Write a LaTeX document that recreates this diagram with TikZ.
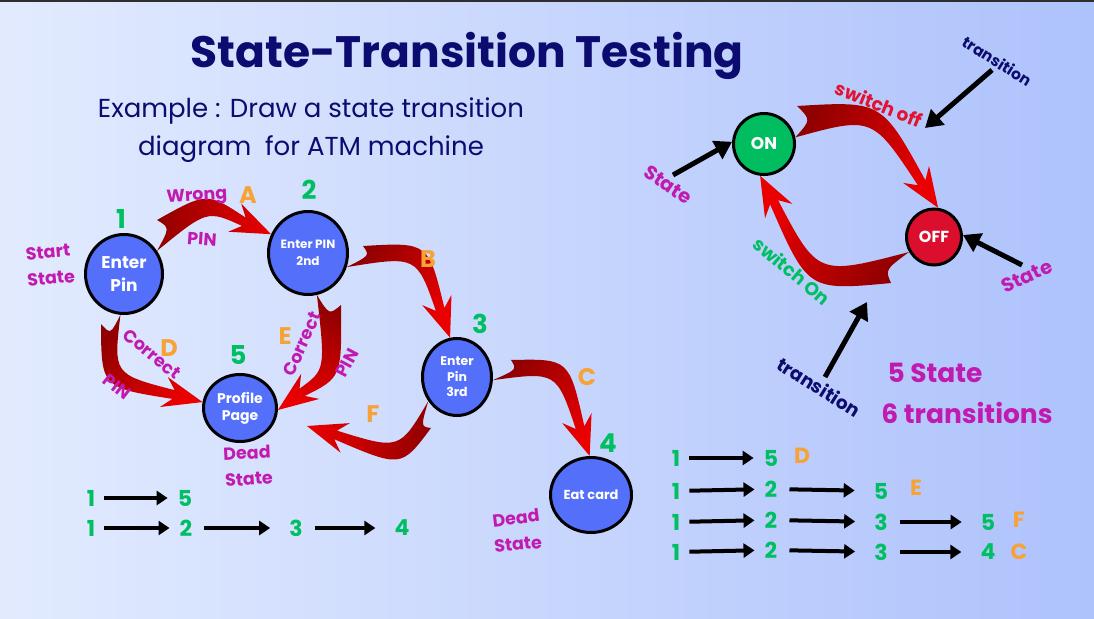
\documentclass[tikz,border=0pt]{standalone}
\usepackage{fontspec}
\setmainfont{Poppins}
\usetikzlibrary{calc,arrows.meta,shapes.geometric}
\definecolor{navy}{RGB}{12,12,112}
\definecolor{sgreen}{RGB}{0,191,99}
\definecolor{sorange}{RGB}{247,162,52}
\definecolor{smag}{RGB}{193,26,176}
\definecolor{nblue}{RGB}{84,112,250}
\definecolor{onGreen}{RGB}{0,190,96}
\definecolor{offRed}{RGB}{220,14,46}
\definecolor{dkred}{RGB}{145,0,0}
\definecolor{brred}{RGB}{235,0,0}
\definecolor{txtred}{RGB}{224,20,50}
\definecolor{bgL}{RGB}{226,235,254}
\definecolor{bgR}{RGB}{174,194,252}
\newcommand\fsz[2]{\fontsize{#1}{#2}\selectfont}
\newcommand\swoosh[6]{%
  \pgfmathsetmacro\swneg{-1*(#5)}%
  \coordinate (sw-S) at ($(#1)!0.5!(#2)$);
  \coordinate (sw-B) at ($(#4)!30pt!(#3)$);
  \coordinate (sw-H) at ($(#4)!40pt!(#3)$);
  \coordinate (sw-Bo) at ($(sw-B)!4.5pt!#5:(#4)$);
  \coordinate (sw-Bi) at ($(sw-B)!4.5pt!\swneg:(#4)$);
  \coordinate (sw-Ho) at ($(sw-H)!15.5pt!#5:(#4)$);
  \coordinate (sw-Hi) at ($(sw-H)!15.5pt!\swneg:(#4)$);
  \coordinate (sw-P) at ($(sw-S)!13pt!#5:(#4)$);
  \coordinate (sw-Q) at ($(sw-S)!5pt!\swneg:(#4)$);
  \coordinate (sw-Co) at ($(#3)+(sw-P)-(sw-S)$);
  \coordinate (sw-Ci) at ($(#3)+(sw-Q)-(sw-S)$);
  \coordinate (sw-N) at ($(sw-S)!15pt!(#3)$);
  \shade[top color=brred, bottom color=dkred, shading angle=#6]
    (#2) .. controls (sw-Co) .. (sw-Bo) -- (sw-Ho) -- (#4) -- (sw-Hi) -- (sw-Bi)
    .. controls (sw-Ci) .. (#1) .. controls (sw-N) .. (#2) -- cycle;
}
\tikzset{
  state/.style={ellipse, draw=black, line width=3pt, fill=nblue, text=white,
    font=\bfseries, align=center, inner sep=0pt},
  lblnum/.style={text=sgreen, font=\bfseries\fsz{26}{30}},
  lbllet/.style={text=sorange, font=\bfseries\fsz{24}{28}},
  lblmag/.style={text=smag, font=\bfseries\fsz{17.5}{20}},
  seqnum/.style={text=sgreen, font=\bfseries\fsz{22}{26}, inner sep=1pt},
  seqlet/.style={text=sorange, font=\bfseries\fsz{22}{26}, inner sep=1pt},
  blkarr/.style={line width=5pt, -{Triangle[length=17pt,width=20pt]}},
  seqarr/.style={line width=4pt, -{Triangle[length=11pt,width=14pt]}},
  seqA/.style={seqarr, shorten <=8pt, shorten >=9pt},
  seqB/.style={seqarr, shorten <=11pt, shorten >=18pt},
}
\begin{document}
\begin{tikzpicture}[x=1pt,y=-1pt]
\useasboundingbox (0,0) rectangle (1094,618);
\shade[left color=bgL, right color=bgR] (0,0) rectangle (1094,618);
\fill[black!82] (0,0) rectangle (1094,2);

% title
\node[anchor=base, text=navy, font=\bfseries\fsz{44}{50}] (title) at (467,67) {State-Transition Testing};
\node[anchor=base, text=navy, font=\fsz{26}{30}] (sub1) at (311,117) {Example : Draw a state transition};
\node[anchor=base, text=navy, font=\fsz{26}{30}] (sub2) at (311,155) {diagram\ \ for ATM machine};

% states left
\node[state, minimum width=77pt, minimum height=79pt, font=\bfseries\fsz{17}{23}] (n1) at (124,274) {Enter\\Pin};
\node[state, minimum width=79pt, minimum height=83pt, font=\bfseries\fsz{12}{17}] (n2) at (308,253) {Enter PIN\\2nd};
\node[state, minimum width=69pt, minimum height=77pt, font=\bfseries\fsz{12.5}{15.5}] (n3) at (457,377) {Enter\\Pin\\3rd};
\node[state, minimum width=81pt, minimum height=75pt, font=\bfseries\fsz{13}{16}] (n4) at (591,495) {Eat card};
\node[state, minimum width=73pt, minimum height=67pt, font=\bfseries\fsz{14}{17}] (n5) at (240,408) {Profile\\Page};

% states right
\node[state, fill=onGreen, minimum width=61pt, minimum height=61pt, font=\bfseries\fsz{17}{20}] (on) at (764,144) {ON};
\node[state, fill=offRed, minimum width=55pt, minimum height=56pt, font=\bfseries\fsz{16}{19}] (off) at (934,237) {OFF};

% swoosh arrows
\coordinate (aSb) at (157,220); \coordinate (aC) at (207,205);
\swoosh{n1.35}{aSb}{aC}{n2.153}{90}{-90}
\coordinate (bSb) at (363,246); \coordinate (bC) at (420,252);
\swoosh{n2.-20}{bSb}{bC}{n3.100}{90}{-129}
\coordinate (cSb) at (511,360); \coordinate (cC) at (560,368);
\swoosh{n3.-5}{cSb}{cC}{n4.92}{90}{-134}
\coordinate (dSb) at (101,324); \coordinate (dC) at (110,378);
\swoosh{n1.-95}{dSb}{dC}{n5.171}{-90}{-134}
\coordinate (eSb) at (341,305); \coordinate (eC) at (330,372);
\swoosh{n2.-78}{eSb}{eC}{n5.-3}{90}{155}
\coordinate (fSb) at (431,428); \coordinate (fC) at (400,455); \coordinate (fTip) at (307,426);
\swoosh{n3.-140}{fSb}{fC}{fTip}{90}{96}
\coordinate (offSb) at (797,106); \coordinate (offC) at (875,112);
\swoosh{on.12}{offSb}{offC}{off.82}{90}{-117}
\coordinate (onSb) at (891,283); \coordinate (onC) at (815,280);
\swoosh{off.-149}{onSb}{onC}{on.-97}{90}{58}

% numbers
\node[lblnum] (d1) at (121,219) {1};
\node[lblnum] (d2) at (309,190) {2};
\node[lblnum] (d3) at (480,324) {3};
\node[lblnum] (d4) at (608,443) {4};
\node[lblnum] (d5) at (238,355) {5};
% letters
\node[lbllet] (lA) at (248,195) {A};
\node[lbllet] (lB) at (428,259) {B};
\node[lbllet] (lC) at (587,377) {C};
\node[lbllet] (lD) at (169,348) {D};
\node[lbllet] (lE) at (285,336) {E};
\node[lbllet] (lF) at (373,414) {F};
% magenta labels
\node[lblmag, rotate=3] (wrong) at (197,197) {Wrong};
\node[lblmag, rotate=-4] (pinA) at (202,239) {PIN};
\node[lblmag, rotate=5] (start) at (48,252) {Start};
\node[lblmag, rotate=5] (startst) at (51,278) {State};
\node[lblmag, rotate=-39] (corrD) at (152,354) {Correct};
\node[lblmag, rotate=-38] (pinD) at (117,387) {PIN};
\node[lblmag, rotate=66] (corrE) at (302,344) {Correct};
\node[lblmag, rotate=62] (pinE) at (347,363) {PIN};
\node[lblmag, rotate=3] (dead5) at (247,453) {Dead};
\node[lblmag, rotate=4] (dead5s) at (249,479) {State};
\node[lblmag, rotate=7] (dead4) at (516,518) {Dead};
\node[lblmag, rotate=5] (dead4s) at (518,544) {State};

% right labels
\node[text=txtred, font=\bfseries\fsz{18.5}{21}, rotate=-22] (swoff) at (879,104) {switch off};
\node[text=sgreen, font=\bfseries\fsz{18.5}{21}, rotate=-40] (swon) at (792,271) {switch On};
\node[text=navy, font=\bfseries\fsz{15.5}{18}, rotate=-32] (trtop) at (997,61) {transition};
\node[text=navy, font=\bfseries\fsz{18.5}{21}, rotate=-32] (trbot) at (819,387) {transition};
\node[text=smag, font=\bfseries\fsz{19.5}{22}, rotate=-34] (stl) at (668,185) {State};
\node[text=smag, font=\bfseries\fsz{19.5}{22}, rotate=25] (str) at (1027,276) {State};
\node[text=smag, font=\bfseries\fsz{26.5}{30}] (fivest) at (935,373) {5 State};
\node[text=smag, font=\bfseries\fsz{26.5}{30}] (sixtr) at (967,413) {6 transitions};

% black arrows
\coordinate (stlA) at (673,175);
\draw[blkarr] (stlA) -- (on.176);
\coordinate (trtA) at (992,70); \coordinate (trtB) at (925,128);
\draw[blkarr] (trtA) -- (trtB);
\coordinate (strA) at (1022,265);
\draw[blkarr] (strA) -- (off.4);
\coordinate (trbA) at (825,377); \coordinate (trbB) at (867,302);
\draw[blkarr] (trbA) -- (trbB);

% left sequences
\node[seqnum] (La1) at (91,498) {1};
\node[seqnum] (La5) at (185,498) {5};
\draw[seqA] (La1) -- (La5);
\node[seqnum] (Lb1) at (91,528) {1};
\node[seqnum] (Lb2) at (186,528) {2};
\node[seqnum] (Lb3) at (296,528) {3};
\node[seqnum] (Lb4) at (402,528) {4};
\draw[seqA] (Lb1) -- (Lb2);
\draw[seqB] (Lb2) -- (Lb3);
\draw[seqB] (Lb3) -- (Lb4);

% right sequences
\node[seqnum] (Ra1) at (676,458) {1};
\node[seqnum] (Ra5) at (771,458) {5};
\node[seqlet] (RaL) at (802,456) {D};
\draw[seqA] (Ra1) -- (Ra5);
\node[seqnum] (Rb1) at (676,491) {1};
\node[seqnum] (Rb2) at (771,489) {2};
\node[seqnum] (Rb5) at (881,491) {5};
\node[seqlet] (RbL) at (916,488) {E};
\draw[seqA] (Rb1) -- (Rb2);
\draw[seqB] (Rb2) -- (Rb5);
\node[seqnum] (Rc1) at (676,522) {1};
\node[seqnum] (Rc2) at (771,520) {2};
\node[seqnum] (Rc3) at (881,522) {3};
\node[seqnum] (Rc5) at (988,522) {5};
\node[seqlet] (RcL) at (1019,520) {F};
\draw[seqA] (Rc1) -- (Rc2);
\draw[seqB] (Rc2) -- (Rc3);
\draw[seqB] (Rc3) -- (Rc5);
\node[seqnum] (Rd1) at (676,552) {1};
\node[seqnum] (Rd2) at (771,550) {2};
\node[seqnum] (Rd3) at (881,552) {3};
\node[seqnum] (Rd4) at (988,552) {4};
\node[seqlet] (RdL) at (1019,552) {C};
\draw[seqA] (Rd1) -- (Rd2);
\draw[seqB] (Rd2) -- (Rd3);
\draw[seqB] (Rd3) -- (Rd4);
\end{tikzpicture}
\end{document}
